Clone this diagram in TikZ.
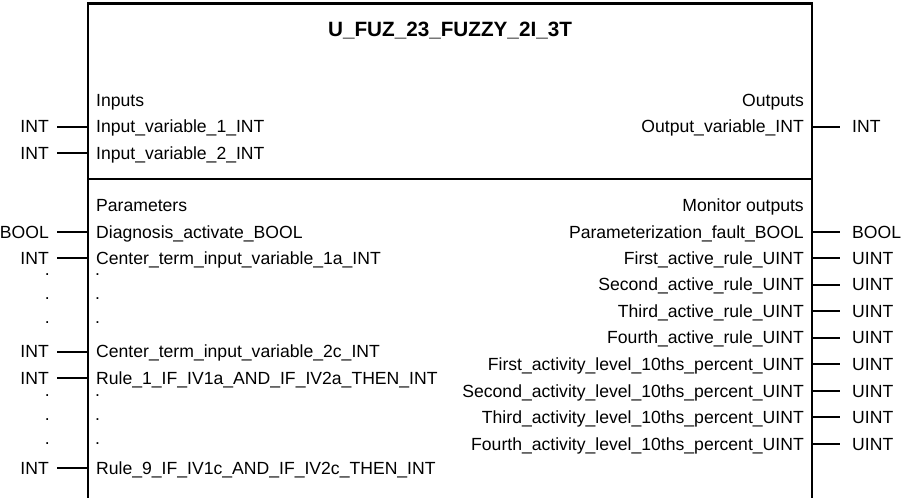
\documentclass[tikz,border=0pt]{standalone}
\usepackage{fontspec}
\setmainfont{Liberation Sans}
\begin{document}
\begin{tikzpicture}[x=1bp,y=-1bp,
  lbl/.style={inner sep=0pt, font=\fontsize{17.6bp}{20bp}\selectfont},
  dotlbl/.style={lbl, text height=2bp, text depth=0pt},
  ttl/.style={inner sep=0pt, font=\fontsize{20.7bp}{24bp}\selectfont\bfseries},
  boxline/.style={line width=2.2bp},
  stub/.style={line width=1.8bp}]
\useasboundingbox (0,0) rectangle (904,498);
% block outline (open at the bottom)
\coordinate (bl) at (88,498);
\coordinate (tl) at (88,3.5);
\coordinate (tr) at (812,3.5);
\coordinate (br) at (812,498);
\draw[boxline] (bl) -- (tl) -- (tr) -- (br);
\coordinate (sepL) at (88,179);
\coordinate (sepR) at (812,179);
\draw[boxline] (sepL) -- (sepR);
% title
\node[ttl, anchor=base] (title) at (450,37) {U\_FUZ\_23\_FUZZY\_2I\_3T};
% headers
\node[lbl, anchor=base west] (hin) at (96,106.5) {Inputs};
\node[lbl, anchor=base east] (hout) at (804,106.5) {Outputs};
\node[lbl, anchor=base west] (hpar) at (96,211.5) {Parameters};
\node[lbl, anchor=base east] (hmon) at (804,211.5) {Monitor outputs};
% left rows
\foreach \b/\typ/\txt/\n in {
  133/INT/Input\_variable\_1\_INT/a,
  159.5/INT/Input\_variable\_2\_INT/b,
  238.5/BOOL/Diagnosis\_activate\_BOOL/c,
  264.5/INT/Center\_term\_input\_variable\_1a\_INT/d,
  358/INT/Center\_term\_input\_variable\_2c\_INT/e,
  384.5/INT/Rule\_1\_IF\_IV1a\_AND\_IF\_IV2a\_THEN\_INT/f,
  474/INT/Rule\_9\_IF\_IV1c\_AND\_IF\_IV2c\_THEN\_INT/g}{
  \node[lbl, anchor=base west] (in\n) at (96,\b) {\txt};
  \node[lbl, anchor=base east] (it\n) at (49,\b) {\typ};
  \coordinate (ie\n) at (88,\b-6.3);
  \coordinate (is\n) at (57,\b-6.3);
  \draw[stub] (ie\n) -- (is\n);
}
% left dots
\foreach \b/\n in {276/a,300/b,324/c,396/d,420/e,444/f}{
  \node[dotlbl, anchor=base west] (dotin\n) at (95,\b) {.};
  \node[dotlbl, anchor=base east] (dotout\n) at (50,\b) {.};
}
% right rows
\foreach \b/\typ/\txt/\n in {
  133/INT/Output\_variable\_INT/a,
  238.5/BOOL/Parameterization\_fault\_BOOL/b,
  264.5/UINT/First\_active\_rule\_UINT/c,
  291/UINT/Second\_active\_rule\_UINT/d,
  317.5/UINT/Third\_active\_rule\_UINT/e,
  344/UINT/Fourth\_active\_rule\_UINT/f,
  370.5/UINT/First\_activity\_level\_10ths\_percent\_UINT/g,
  397/UINT/Second\_activity\_level\_10ths\_percent\_UINT/h,
  423.5/UINT/Third\_activity\_level\_10ths\_percent\_UINT/i,
  450/UINT/Fourth\_activity\_level\_10ths\_percent\_UINT/j}{
  \node[lbl, anchor=base east] (on\n) at (804,\b) {\txt};
  \node[lbl, anchor=base west] (ot\n) at (852,\b) {\typ};
  \coordinate (oe\n) at (812,\b-6.3);
  \coordinate (os\n) at (840,\b-6.3);
  \draw[stub] (oe\n) -- (os\n);
}
\end{tikzpicture}
\end{document}
